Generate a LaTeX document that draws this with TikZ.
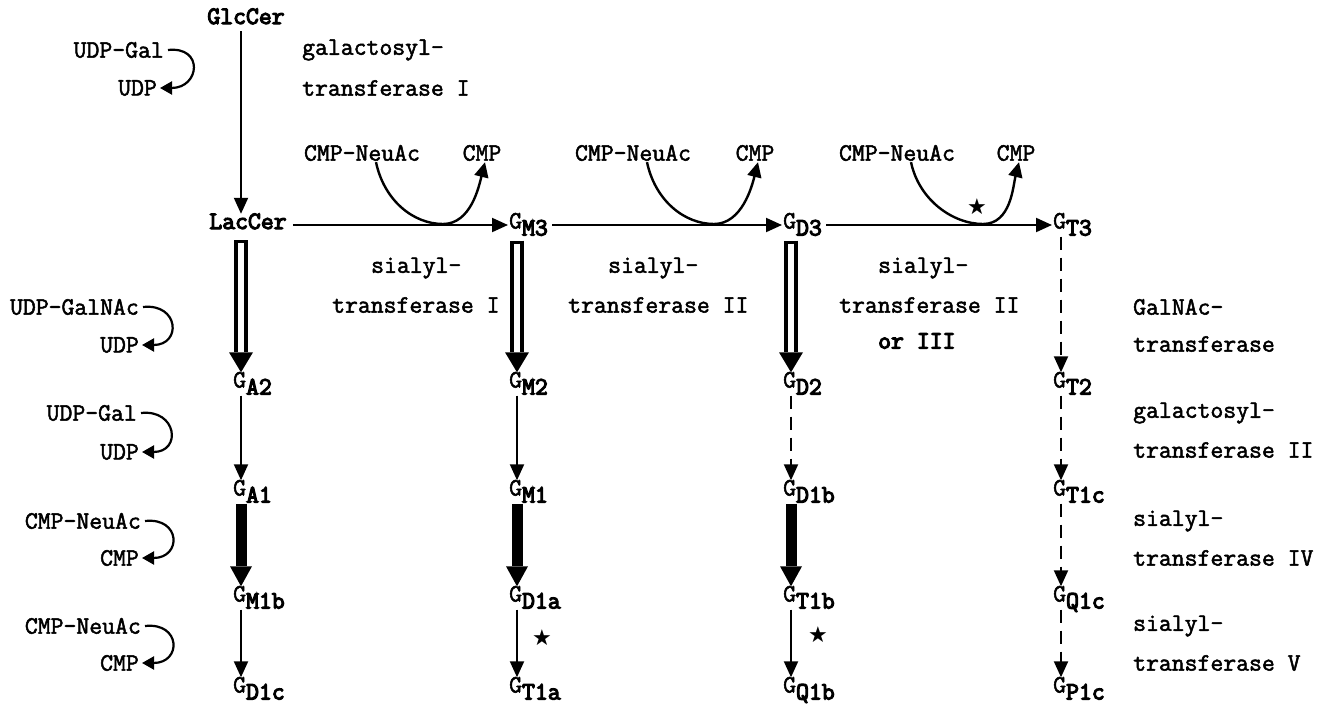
\documentclass[tikz,border=0pt]{standalone}
\usepackage{fontspec}
\newfontfamily\rfont{Latin Modern Mono}[FakeBold=2]
\newfontfamily\bfont{Latin Modern Mono}[FakeBold=4.5]
\newfontfamily\symfont{DejaVu Sans}
\usetikzlibrary{arrows.meta,calc}
\newcommand{\gs}[1]{{\fontsize{25}{25}\selectfont\rfont G\raisebox{-7pt}{\bfont #1}}}
\begin{document}
\begin{tikzpicture}[x=1pt,y=-1pt,
  lbl/.style={font=\rfont\fontsize{25}{37}\selectfont, inner sep=1pt},
  gn/.style={lbl, anchor=west, text height=14pt, text depth=7pt},
  thinarr/.style={line width=2pt, -{Triangle[length=16pt,width=14pt]}},
  dasharr/.style={thinarr, dash pattern=on 13pt off 8pt},
  thickarr/.style={line width=11pt, -{Triangle[length=20pt,width=22pt,line width=0pt]}},
  hollowout/.style={line width=14pt, -{Triangle[length=20pt,width=24pt,line width=0pt]}},
  hollowin/.style={white, line width=6pt},
  cof/.style={line width=2.2pt, -{Triangle[length=12pt,width=13pt]}},
  react/.style={line width=2.4pt, -{Triangle[length=15pt,width=14pt]}},
  star/.style={font=\symfont\fontsize{22}{22}\selectfont, inner sep=0pt}
]
\useasboundingbox (0,0) rectangle (1324,707);
\coordinate (c1) at (241,0);
\coordinate (c2) at (517,0);
\coordinate (c3) at (791,0);
\coordinate (c4) at (1061,0);

% main compounds
\node[lbl, text height=14pt, text depth=6pt] (GlcCer) at (246,20) {\bfont GlcCer};
\node[lbl, text height=14pt, text depth=6pt] (LacCer) at (248,225) {\bfont LacCer};
\node[gn] (GM3) at (508,225) {\gs{M3}};
\node[gn] (GD3) at (782,225) {\gs{D3}};
\node[gn] (GT3) at (1052,225) {\gs{T3}};

\node[gn] (GA2) at (232,384) {\gs{A2}};
\node[gn] (GA1) at (232,492) {\gs{A1}};
\node[gn] (GM1b) at (232,598) {\gs{M1b}};
\node[gn] (GD1c) at (232,689) {\gs{D1c}};

\node[gn] (GM2) at (508,384) {\gs{M2}};
\node[gn] (GM1) at (508,492) {\gs{M1}};
\node[gn] (GD1a) at (508,598) {\gs{D1a}};
\node[gn] (GT1a) at (508,689) {\gs{T1a}};

\node[gn] (GD2) at (782,384) {\gs{D2}};
\node[gn] (GD1b) at (782,492) {\gs{D1b}};
\node[gn] (GT1b) at (782,598) {\gs{T1b}};
\node[gn] (GQ1b) at (782,689) {\gs{Q1b}};

\node[gn] (GT2) at (1052,384) {\gs{T2}};
\node[gn] (GT1c) at (1052,492) {\gs{T1c}};
\node[gn] (GQ1c) at (1052,598) {\gs{Q1c}};
\node[gn] (GP1c) at (1052,689) {\gs{P1c}};

% enzyme labels
\node[lbl, anchor=west] (galIa) at (301,50) {galactosyl-};
\node[lbl, anchor=west] (galIb) at (301,88) {transferase I};
\node[lbl, anchor=west] (sIa) at (370,268) {sialyl-};
\node[lbl, anchor=west] (sIb) at (331,305) {transferase I};
\node[lbl, anchor=west] (sIIa) at (607,268) {sialyl-};
\node[lbl, anchor=west] (sIIb) at (567,305) {transferase II};
\node[lbl, anchor=west] (sIIIa) at (877,268) {sialyl-};
\node[lbl, anchor=west] (sIIIb) at (838,305) {transferase II};
\node[lbl, anchor=west] (sIIIc) at (877,341) {\bfont or III};
\node[lbl, anchor=west] (galnaca) at (1132,307) {GalNAc-};
\node[lbl, anchor=west] (galnacb) at (1132,344) {transferase};
\node[lbl, anchor=west] (galIIa) at (1132,413) {galactosyl-};
\node[lbl, anchor=west] (galIIb) at (1132,450) {transferase II};
\node[lbl, anchor=west] (sIVa) at (1132,521) {sialyl-};
\node[lbl, anchor=west] (sIVb) at (1132,558) {transferase IV};
\node[lbl, anchor=west] (sVa) at (1132,626) {sialyl-};
\node[lbl, anchor=west] (sVb) at (1132,663) {transferase V};

% top vertical and horizontal arrows
\draw[thinarr] (GlcCer.south -| c1) -- (LacCer.north -| c1);
\draw[thinarr] ([xshift=5pt]LacCer.east) -- (GM3.west);
\draw[thinarr] ([xshift=3pt]GM3.east) -- (GD3.west);
\draw[thinarr] ([xshift=3pt]GD3.east) -- (GT3.west);

% sialic acid donors on horizontal reactions
\node[lbl] (N1) at (362,153) {CMP-NeuAc};
\node[lbl] (C1) at (482,153) {CMP};
\node[lbl] (N2) at (633,153) {CMP-NeuAc};
\node[lbl] (C2) at (755,153) {CMP};
\node[lbl] (N3) at (897,153) {CMP-NeuAc};
\node[lbl] (C3) at (1016,153) {CMP};
\coordinate (X1) at (443,224);
\coordinate (X2) at (714,224);
\coordinate (X3) at (983,224);
\draw[react] ([xshift=14pt]N1.south) .. controls +(8,38) and +(-30,0) .. (X1) .. controls +(28,0) and +(-6,24) .. ([xshift=3pt]C1.south);
\draw[react] ([xshift=14pt]N2.south) .. controls +(8,38) and +(-30,0) .. (X2) .. controls +(28,0) and +(-6,24) .. ([xshift=3pt]C2.south);
\draw[react] ([xshift=14pt]N3.south) .. controls +(8,38) and +(-30,0) .. (X3) .. controls +(28,0) and +(-6,24) .. ([xshift=3pt]C3.south);
\node[star] (st3) at (977,207) {★};

% hollow arrows
\foreach \a/\b/\c in {LacCer/GA2/c1, GM3/GM2/c2, GD3/GD2/c3}{
  \draw[hollowout] ([yshift=-4pt]\a.south -| \c) -- (\b.north -| \c);
  \draw[hollowin] ($(\a.south -| \c)+(0,7)$) -- ($(\b.north -| \c)+(0,-20)$);
}
% thin arrows
\foreach \a/\b/\c in {GA2/GA1/c1, GM1b/GD1c/c1, GM2/GM1/c2, GD1a/GT1a/c2, GT1b/GQ1b/c3}{
  \draw[thinarr] (\a.south -| \c) -- (\b.north -| \c);
}
% thick arrows
\foreach \a/\b/\c in {GA1/GM1b/c1, GM1/GD1a/c2, GD1b/GT1b/c3}{
  \draw[thickarr] (\a.south -| \c) -- (\b.north -| \c);
}
% dashed arrows
\foreach \a/\b/\c in {GD2/GD1b/c3, GT3/GT2/c4, GT2/GT1c/c4, GT1c/GQ1c/c4, GQ1c/GP1c/c4}{
  \draw[dasharr] (\a.south -| \c) -- (\b.north -| \c);
}
\node[star] (st1) at (542,638) {★};
\node[star] (st2) at (818,635) {★};

% cofactors on the left
\node[lbl, anchor=east] (d0) at (165,50) {UDP-Gal};
\node[lbl, anchor=east] (p0) at (158,88) {UDP};
\node[lbl, anchor=east] (d1) at (140,307) {UDP-GalNAc};
\node[lbl, anchor=east] (p1) at (140,345) {UDP};
\node[lbl, anchor=east] (d2) at (138,413) {UDP-Gal};
\node[lbl, anchor=east] (p2) at (140,452) {UDP};
\node[lbl, anchor=east] (d3) at (142,521) {CMP-NeuAc};
\node[lbl, anchor=east] (p3) at (140,558) {CMP};
\node[lbl, anchor=east] (d4) at (142,626) {CMP-NeuAc};
\node[lbl, anchor=east] (p4) at (140,663) {CMP};
\foreach \d/\p in {d0/p0, d1/p1, d2/p2, d3/p3, d4/p4}{
  \draw[cof] ([xshift=3pt]\d.east) .. controls +(36,-4) and +(40,0) .. ([xshift=2pt]\p.east);
}
\end{tikzpicture}
\end{document}
